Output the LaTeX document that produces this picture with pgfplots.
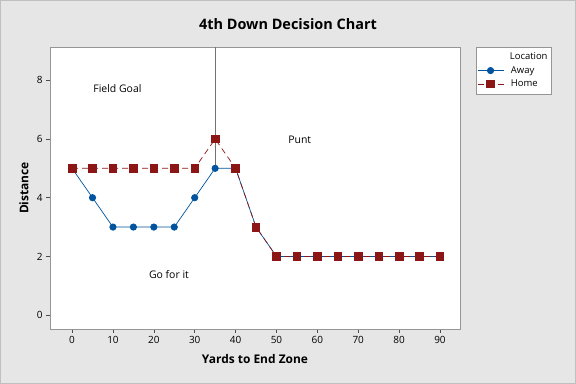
\documentclass[border=0pt]{standalone}
\usepackage{fontspec}
\setmainfont{Open Sans}
\usepackage{pgfplots}
\pgfplotsset{compat=1.18}
\definecolor{bg}{RGB}{230,230,230}
\definecolor{awayc}{RGB}{0,84,159}
\definecolor{homec}{RGB}{140,22,22}
\definecolor{framec}{RGB}{150,150,150}
\begin{document}
\begin{tikzpicture}
\fill[bg] (0bp,0bp) rectangle (576bp,384bp);
\draw[color=framec!60, line width=0.8bp] (0.4bp,0.4bp) rectangle (575.6bp,383.6bp);
\useasboundingbox (0bp,0bp) rectangle (576bp,384bp);
\node[font=\fontsize{14.5}{17}\selectfont\bfseries] at (288bp,360bp) {4th Down Decision Chart};
\begin{axis}[
  at={(50bp,55bp)}, anchor=south west, scale only axis,
  width=410bp, height=282bp,
  xmin=-5.4, xmax=94.9, ymin=-0.47, ymax=9.13,
  axis background/.style={fill=white},
  axis line style={draw=framec, line width=0.8bp},
  xtick={0,10,...,90}, ytick={0,2,4,6,8},
  xtick pos=bottom, ytick pos=left, tick align=outside,
  major tick length=4bp,
  tick style={draw=black!70, line width=0.6bp},
  /pgf/number format/assume math mode=true,
  tick label style={font=\fontsize{10}{12}\selectfont},
  xlabel={Yards to End Zone}, ylabel={Distance},
  label style={font=\fontsize{12}{14}\selectfont\bfseries},
  xlabel style={at={(axis description cs:0.5,-0.106)}, anchor=center},
  ylabel style={at={(axis description cs:-0.0634,0.5)}, anchor=center},
  legend style={at={(axis description cs:1.039,1)}, anchor=north west,
    draw=framec, fill=white, font=\fontsize{9.5}{11}\selectfont,
    row sep=0bp, inner xsep=1bp, inner ysep=3bp,
    nodes={inner xsep=3bp, inner ysep=2.6bp}},
  legend cell align=left,
  legend image code/.code={%
    \draw[#1] (0bp,0bp) -- (26bp,0bp);
    \draw[#1, solid] plot coordinates {(13bp,0bp)};
    \path (30bp,0bp);},
  clip=false,
]
\addlegendimage{empty legend}
\addlegendentry{\hspace{-1bp}Location\hspace{5bp}}
\addplot[color=awayc, line width=0.7bp, mark=*, mark size=3.2bp,
  mark options={fill=awayc, draw=awayc}] coordinates {
  (0,5) (5,4) (10,3) (15,3) (20,3) (25,3) (30,4) (35,5) (40,5) (45,3)
  (50,2) (55,2) (60,2) (65,2) (70,2) (75,2) (80,2) (85,2) (90,2)};
\addlegendentry{Away}
\addplot[color=homec, line width=0.7bp, dash pattern=on 6bp off 4bp,
  mark=square*, mark size=3.8bp,
  mark options={solid, fill=homec, draw=homec}] coordinates {
  (0,5) (5,5) (10,5) (15,5) (20,5) (25,5) (30,5) (35,6) (40,5) (45,3)
  (50,2) (55,2) (60,2) (65,2) (70,2) (75,2) (80,2) (85,2) (90,2)};
\addlegendentry{Home}
\addplot[forget plot, color=black!55, line width=0.8bp] coordinates {(35,5) (35,9.13)};
\node[font=\fontsize{10.5}{12}\selectfont] at (axis cs:11.1,7.73) {Field Goal};
\node[font=\fontsize{10.5}{12}\selectfont] at (axis cs:55.7,5.96) {Punt};
\node[font=\fontsize{10.5}{12}\selectfont] at (axis cs:23.7,1.40) {Go for it};
\end{axis}
\end{tikzpicture}
\end{document}
